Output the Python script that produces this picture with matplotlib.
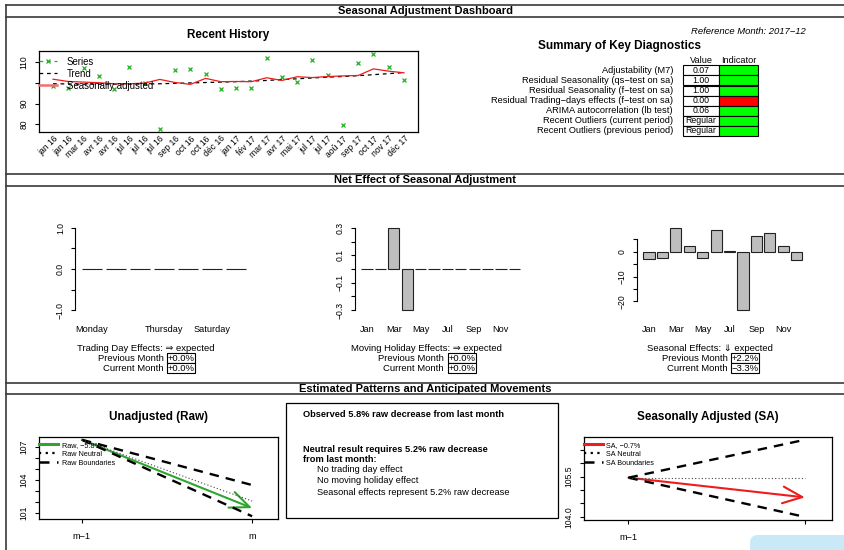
import numpy as np
import matplotlib.pyplot as plt
from matplotlib.lines import Line2D
from matplotlib.patches import Rectangle, FancyArrowPatch, FancyBboxPatch

W, H = 844, 550
plt.rcParams['font.family'] = ['Liberation Sans', 'DejaVu Sans']
plt.rcParams['axes.unicode_minus'] = True

# ---- data ----
hist_labels = ["jan 16", "jan 16", "mar 16", "avr 16", "avr 16", "jul 16", "jul 16", "jul 16",
               "sep 16", "oct 16", "oct 16", "déc 16", "jan 17", "fév 17", "mar 17", "avr 17",
               "mai 17", "jul 17", "jul 17", "aoû 17", "sep 17", "oct 17", "nov 17", "déc 17"]
hist_series = [98.6, 97.7, 107.4, 103.4, 96.9, 107.9, 100.1, 77.7, 106.2, 106.6, 104.2, 97.2,
               97.5, 97.5, 112.1, 103.1, 100.4, 111.1, 103.6, 79.4, 109.7, 114.0, 107.8, 101.5]
hist_trend = [99.6, 99.5, 99.4, 99.4, 99.4, 99.4, 99.5, 99.6, 99.8, 100.0, 100.2, 100.4,
              100.6, 100.9, 101.2, 101.6, 102.0, 102.4, 102.8, 103.1, 103.5, 104.0, 104.5, 105.0]
hist_sa = [101.8, 100.7, 100.4, 100.1, 99.6, 99.6, 99.9, 101.7, 100.2, 99.3, 102.2, 100.6,
           100.7, 100.6, 102.5, 101.2, 103.0, 102.6, 103.1, 103.4, 103.6, 106.8, 105.7, 104.9]

ref_month = "2017−12"
diag_labels = ["Adjustability (M7)", "Residual Seasonality (qs−test on sa)",
               "Residual Seasonality (f−test on sa)", "Residual Trading−days effects (f−test on sa)",
               "ARIMA autocorrelation (lb test)", "Recent Outliers (current period)",
               "Recent Outliers (previous period)"]
diag_values = ["0.07", "1.00", "1.00", "0.00", "0.06", "Regular", "Regular"]
diag_ok = [True, True, True, False, True, True, True]

days = ["Monday", "Tuesday", "Wednesday", "Thursday", "Friday", "Saturday", "Sunday"]
td_effects = [0, 0, 0, 0, 0, 0, 0]
months = ["Jan", "Feb", "Mar", "Apr", "May", "Jun", "Jul", "Aug", "Sep", "Oct", "Nov", "Dec"]
mh_effects = [0, 0, 0.3, -0.3, 0, 0, 0, 0, 0, 0, 0, 0]
seas_effects = [-3.0, -2.6, 9.7, 2.3, -2.4, 8.9, 0.5, -23.6, 6.2, 7.4, 2.2, -3.3]
effect_titles = ["Trading Day Effects: ⇒ expected", "Moving Holiday Effects: ⇒ expected",
                 "Seasonal Effects: ⇓ expected"]
effect_prev = ["+0.0%", "+0.0%", "+2.2%"]
effect_cur = ["+0.0%", "+0.0%", "−3.3%"]

raw_prev, raw_chg, raw_neutral_chg = 107.69, -5.8, -5.2
raw_bounds = [100.70, 103.55]
sa_prev, sa_chg, sa_neutral_chg = 105.46, -0.7, 0.0
sa_bounds = [103.99, 106.88]
note_lines = [("Observed 5.8% raw decrease from last month", True, 0),
              ("Neutral result requires 5.2% raw decrease", True, 0),
              ("from last month:", True, 0),
              ("No trading day effect", False, 1),
              ("No moving holiday effect", False, 1),
              ("Seasonal effects represent 5.2% raw decrease", False, 1)]

GREEN = '#2fa52f'
PT_GREEN = '#22b022'
RED = '#ee1c1c'
FRAME = '#3a3a3a'

fig = plt.figure(figsize=(W / 100, H / 100), dpi=100)


def add_ax(x0, y0, x1, y1):
    ax = fig.add_axes([x0 / W, 1 - y1 / H, (x1 - x0) / W, (y1 - y0) / H])
    ax.patch.set_alpha(0)
    return ax


def r_range(vals):
    lo, hi = min(vals), max(vals)
    if lo == hi:
        lo, hi = lo - 1, hi + 1
    pad = 0.04 * (hi - lo)
    return lo - pad, hi + pad


def style_ticks(ax, size=6):
    ax.tick_params(axis='both', labelsize=size, length=3, width=0.8, pad=4.5)
    plt.setp(ax.get_yticklabels(), rotation=90, va='center')


# background layer: frames, headers, table
bg = fig.add_axes([0, 0, 1, 1])
bg.set_xlim(0, W)
bg.set_ylim(H, 0)
bg.axis('off')
for yy in [5.3, 16.5, 174, 186, 382.7, 394.3]:
    bg.plot([6, W + 5], [yy, yy], color=FRAME, lw=1.2)
bg.plot([6, 6], [5.3, H + 5], color=FRAME, lw=1.2)
bg.text(425, 11, "Seasonal Adjustment Dashboard", ha='center', va='center', fontsize=8, fontweight='bold')
bg.text(425, 180.3, "Net Effect of Seasonal Adjustment", ha='center', va='center', fontsize=8, fontweight='bold')
bg.text(425, 388.5, "Estimated Patterns and Anticipated Movements", ha='center', va='center', fontsize=8, fontweight='bold')

# ---- Recent History ----
ax = add_ax(39, 51, 418, 132)
x = np.arange(len(hist_labels))
ax.plot(x, hist_series, ls='none', marker='x', ms=3.2, mew=0.9, color=PT_GREEN)
ax.plot(x, hist_trend, ls=(0, (3, 3)), color='black', lw=0.9)
ax.plot(x, hist_sa, color=RED, lw=0.9)
ax.set_xlim(-0.04 * (len(x) - 1), (len(x) - 1) * 1.04)
ax.set_ylim(*r_range(hist_series + hist_trend + hist_sa))
ax.set_yticks([80, 90, 100, 110])
ax.set_yticklabels(['80', '90', '', '110'])
ax.set_xticks(x)
ax.set_xticklabels(hist_labels)
style_ticks(ax, 6.2)
ax.tick_params(axis='x', length=0, pad=1.5)
plt.setp(ax.get_xticklabels(), rotation=45, ha='right', rotation_mode='anchor')
ax.set_title("Recent History", fontsize=8.4, fontweight='bold', pad=9.5)
handles = [Line2D([], [], color=PT_GREEN, ls=(0, (3, 3)), marker='x', ms=3.2, mew=0.9, lw=0.9),
           Line2D([], [], color='black', ls=(0, (3, 3)), lw=0.9),
           Line2D([], [], color='#f07070', lw=1.8)]
ax.legend(handles, ["Series", "Trend", "Seasonally adjusted"], loc='upper left', frameon=False,
          fontsize=6.9, handlelength=1.9, handletextpad=1.0, labelspacing=0.2,
          borderaxespad=0, borderpad=0.6, bbox_to_anchor=(-0.015, 1.0))
for s in ax.spines.values():
    s.set_linewidth(0.9)

# ---- diagnostics ----
bg.text(806, 32, "Reference Month: " + ref_month, ha='right', va='center', fontsize=6.8, style='italic')
bg.text(620, 46, "Summary of Key Diagnostics", ha='center', va='center', fontsize=8.5, fontweight='bold')
bg.text(701, 60.5, "Value", ha='center', va='center', fontsize=6.6)
bg.text(739, 60.5, "Indicator", ha='center', va='center', fontsize=6.6)
row_h = 10.1
for i, (lab, val, ok) in enumerate(zip(diag_labels, diag_values, diag_ok)):
    y0 = 65.3 + i * row_h
    bg.add_patch(Rectangle((683, y0), 36, row_h, facecolor='white', edgecolor='black', lw=0.8))
    bg.add_patch(Rectangle((719, y0), 39, row_h, facecolor='#00ff00' if ok else '#ff0000',
                           edgecolor='black', lw=0.8))
    bg.text(673, y0 + row_h / 2, lab, ha='right', va='center', fontsize=6.7)
    bg.text(701, y0 + row_h / 2, val, ha='center', va='center', fontsize=6.3)

# ---- effect bar panels ----
panels = [
    (days, td_effects, [0, 3, 5], 75.4, 24.0, [-1, -0.5, 0, 0.5, 1], ['−1.0', '', '0.0', '', '1.0'], 146),
    (months, mh_effects, [0, 2, 4, 6, 8, 10], 355, 13.4,
     [-0.3, -0.2, -0.1, 0, 0.1, 0.2, 0.3], ['−0.3', '', '−0.1', '', '0.1', '', '0.3'], 426.7),
    (months, seas_effects, [0, 2, 4, 6, 8, 10], 637, 13.43,
     [-20, -15, -10, -5, 0, 5], ['−20', '', '−10', '', '0', ''], 710),
]
for k, (names, vals, shown, left, step, yt, ytl, cx) in enumerate(panels):
    n = len(vals)
    pad = 0.04 * (1.2 * n - 0.2)
    xl = ((0.2 - pad - 0.7) / 1.2, (1.2 * n + pad - 0.7) / 1.2)
    lo, hi = min(0, min(vals)), max(0, max(vals))
    if lo == hi:
        lo, hi = -1, 1
    if k == 1:
        lo, hi = -0.3, 0.3
    yp = 0.04 * (hi - lo)
    ax = add_ax(left, 224.5, left + (xl[1] - xl[0]) * step, 313.5)
    xi = np.arange(n)
    ax.bar(xi, vals, width=1 / 1.2, color='#bebebe', edgecolor='#222222', lw=0.8)
    ax.set_xlim(*xl)
    ax.set_ylim(lo - yp, hi + yp)
    for s in ['top', 'right', 'bottom']:
        ax.spines[s].set_visible(False)
    ax.spines['left'].set_bounds(min(yt), max(yt))
    ax.spines['left'].set_linewidth(0.8)
    ax.set_yticks(yt)
    ax.set_yticklabels(ytl)
    ax.set_xticks(xi[shown])
    ax.set_xticklabels([names[j] for j in shown])
    style_ticks(ax, 6.2)
    ax.tick_params(axis='x', length=0, pad=8.5, labelsize=6.6)
    bg.text(cx, 348.3, effect_titles[k], ha='center', va='center', fontsize=6.8)
    for j, (lab, v) in enumerate([("Previous Month", effect_prev[k]), ("Current Month", effect_cur[k])]):
        yy = 358.3 + j * 9.8
        bg.text(cx + 20, yy, lab + " ", ha='right', va='center', fontsize=6.8)
        bg.text(cx + 21.5, yy, v, ha='left', va='center', fontsize=6.8,
                bbox=dict(boxstyle='square,pad=0.06', facecolor='white', edgecolor='black', lw=0.8))


# ---- movement panels ----
def movement(ax, prev, chg, neutral_chg, bounds, color, name, yt, ytl, title):
    cur = prev * (1 + chg / 100)
    neutral = prev * (1 + neutral_chg / 100)
    for b in bounds:
        ax.plot([0, 1], [prev, b], color='black', lw=1.7, ls=(0, (4, 3)))
    ax.plot([0, 1], [prev, neutral], color='#444444', lw=0.8, ls=(0, (1, 2)))
    ax.add_patch(FancyArrowPatch((0, prev), (1, cur), arrowstyle='->,head_length=14,head_width=6',
                                 mutation_scale=1, lw=1.5, color=color, shrinkA=0, shrinkB=0))
    ax.set_xlim(-0.252, 1.152)
    ax.set_ylim(*r_range([prev, cur, neutral] + bounds))
    ax.set_xticks([0, 1])
    ax.set_xticklabels(['m−1', 'm'])
    ax.set_yticks(yt)
    ax.set_yticklabels(ytl)
    style_ticks(ax, 6.2)
    ax.tick_params(axis='x', pad=6, labelsize=6.6)
    for s in ax.spines.values():
        s.set_linewidth(0.9)
    hs = [Line2D([], [], color=color, lw=2.2), Line2D([], [], color='black', lw=1.6, ls=(0, (1, 2))),
          Line2D([], [], color='black', lw=1.8, ls=(0, (4, 3)))]
    labs = [f"{name}, {chg:+.1f}%".replace('-', '−'), f"{name} Neutral", f"{name} Boundaries"]
    ax.legend(hs, labs, loc='upper left', frameon=False, fontsize=5.2, handlelength=2.6,
              handletextpad=0.5, labelspacing=0.25, borderaxespad=0, borderpad=0.7,
              bbox_to_anchor=(-0.02, 1.0))
    ax.set_title(title, fontsize=8.4, fontweight='bold', pad=12)


ax = add_ax(39, 436.7, 278, 519.3)
movement(ax, raw_prev, raw_chg, raw_neutral_chg, raw_bounds, GREEN, "Raw",
         [101, 102, 103, 104, 105, 106, 107], ['101', '', '', '104', '', '', '107'], "Unadjusted (Raw)")
ax = add_ax(584, 436.7, 831.7, 520)
movement(ax, sa_prev, sa_chg, sa_neutral_chg, sa_bounds, RED, "SA",
         [104, 104.5, 105, 105.5, 106, 106.5], ['104.0', '', '', '105.5', '', ''], "Seasonally Adjusted (SA)")

# middle note box
bg.add_patch(Rectangle((286, 403.3), 272, 115, facecolor='white', edgecolor='black', lw=0.9))
note_y = [414.3, 449, 459, 469.3, 480.7, 492.7]
for (txt, bold, ind), yy in zip(note_lines, note_y):
    bg.text(302.7 + ind * 14, yy, txt, ha='left', va='center', fontsize=6.7,
            fontweight='bold' if bold else 'normal')

# top overlay (rounded light-blue box at the bottom right)
top = fig.add_axes([0, 0, 1, 1])
top.set_xlim(0, W)
top.set_ylim(H, 0)
top.axis('off')
top.add_patch(FancyBboxPatch((750, 535), 110, 30, boxstyle='round,pad=0,rounding_size=8',
                             facecolor='#c9e9f6', edgecolor='none'))

fig.savefig("out.png", dpi=100)
